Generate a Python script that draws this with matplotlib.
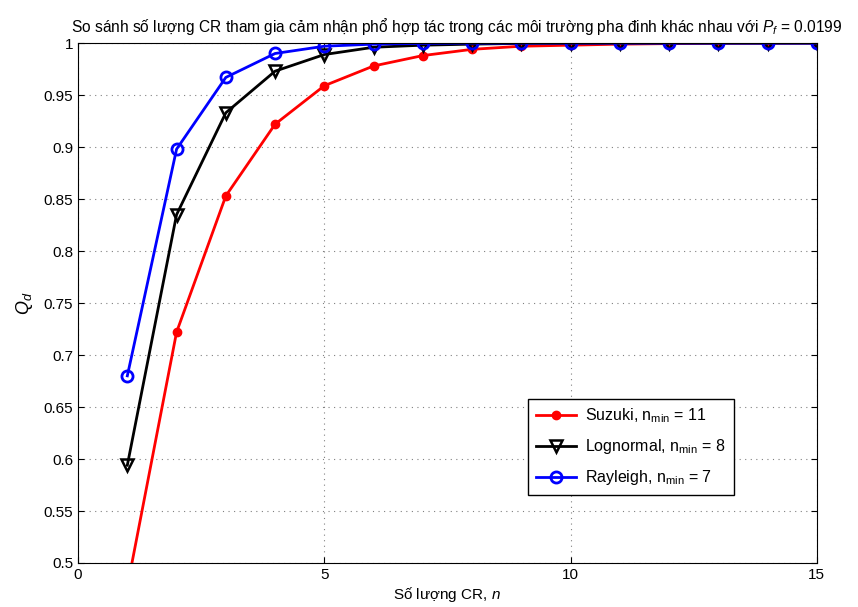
import matplotlib
matplotlib.use("Agg")
from matplotlib import pyplot as plt
import numpy as np

plt.rcParams['font.family'] = ['Liberation Sans', 'DejaVu Sans']
plt.rcParams['mathtext.fontset'] = 'custom'
plt.rcParams['mathtext.rm'] = 'Liberation Sans'
plt.rcParams['mathtext.it'] = 'Liberation Sans:italic'

# number of cooperating CRs
n = np.arange(1, 16)

# detection probability Q_d per fading channel
suzuki = [0.477, 0.722, 0.853, 0.922, 0.959, 0.978, 0.988, 0.994, 0.997, 0.998,
          0.999, 0.9995, 0.9998, 0.9999, 1.0]
lognormal = [0.594, 0.835, 0.933, 0.973, 0.989, 0.996, 0.998, 0.999, 0.9997, 0.9999,
             1.0, 1.0, 1.0, 1.0, 1.0]
rayleigh = [0.680, 0.898, 0.967, 0.990, 0.997, 0.999, 0.9997, 1.0, 1.0, 1.0,
            1.0, 1.0, 1.0, 1.0, 1.0]

labels = [r"Suzuki, n$_{\mathrm{min}}$ = 11",
          r"Lognormal, n$_{\mathrm{min}}$ = 8",
          r"Rayleigh, n$_{\mathrm{min}}$ = 7"]

fig = plt.figure(figsize=(8.58, 6.07), dpi=100)
ax = fig.add_axes([0.091, 0.0725, 0.861, 0.8565])

ax.plot(n, suzuki, color="red", lw=2, marker="o", ms=6, mfc="red", mec="red",
        label=labels[0])
ax.plot(n, lognormal, color="black", lw=2, marker="v", ms=8.5, mfc="none", mec="black",
        mew=1.8, label=labels[1])
ax.plot(n, rayleigh, color="blue", lw=2, marker="o", ms=8, mfc="none", mec="blue",
        mew=2, label=labels[2])

ax.set_xlim(0, 15)
ax.set_ylim(0.5, 1)
ax.set_xticks([0, 5, 10, 15])
ax.set_yticks(np.arange(0.5, 1.001, 0.05))
ax.set_yticklabels(["0.5", "0.55", "0.6", "0.65", "0.7", "0.75", "0.8", "0.85",
                    "0.9", "0.95", "1"])
ax.tick_params(direction="in", top=True, right=True, labelsize=11, length=4)
ax.grid(True, linestyle=(0, (1, 4)), color="gray", linewidth=0.8)

ax.set_title(r"So sánh số lượng CR tham gia cảm nhận phổ hợp tác trong các môi trường pha đinh khác nhau với $P_f$ = 0.0199",
             fontsize=11.2, pad=8, x=0.513)
ax.set_xlabel(r"Số lượng CR, $n$", fontsize=11, labelpad=2)
ax.set_ylabel(r"$Q_d$", fontsize=13, labelpad=6)

leg = ax.legend(loc="lower left", bbox_to_anchor=(0.598, 0.115), fontsize=11.5,
                fancybox=False, edgecolor="black", framealpha=1,
                handlelength=2.5, borderpad=0.5, labelspacing=0.75,
                handletextpad=0.6)
leg.get_frame().set_linewidth(1)

fig.savefig("out.png", dpi=100)
